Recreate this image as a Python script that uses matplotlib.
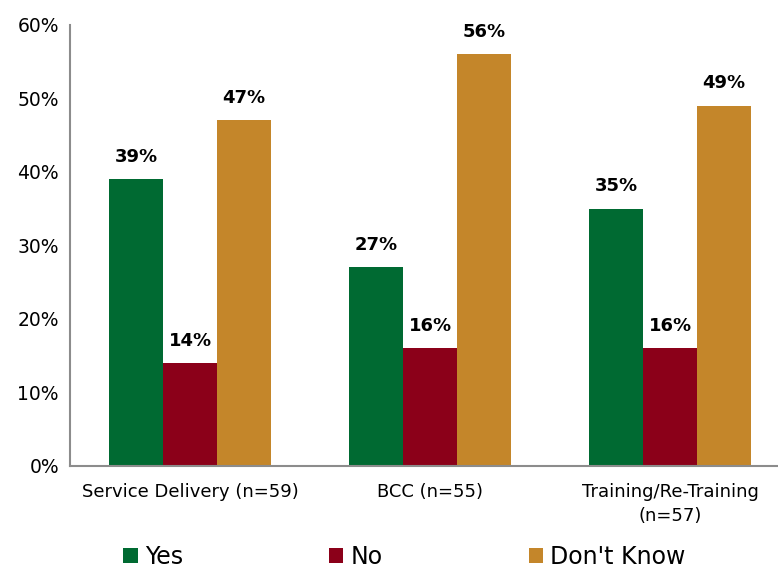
import numpy as np
import matplotlib.pyplot as plt

categories = ["Service Delivery (n=59)", "BCC (n=55)", "Training/Re-Training\n(n=57)"]
series = ["Yes", "No", "Don't Know"]
yes_vals = [39, 27, 35]
no_vals = [14, 16, 16]
dk_vals = [47, 56, 49]
colors = ["#006A32", "#8B0019", "#C4862A"]

plt.rcParams['font.family'] = ['DejaVu Sans']

fig = plt.figure(figsize=(7.78, 5.76), dpi=100)
ax = fig.add_axes([0.09, 0.191, 0.91, 0.766])

x = np.arange(len(categories))
w = 0.225
for i, (vals, lab) in enumerate(zip([yes_vals, no_vals, dk_vals], series)):
    pos = x + (i - 1) * w
    ax.bar(pos, vals, w, color=colors[i], label=lab)
    for p, v in zip(pos, vals):
        ax.text(p, v + 1.8, "%d%%" % v, ha='center', va='bottom',
                fontsize=13, fontweight='bold')

ax.set_xlim(-0.5, 2.45)
ax.set_ylim(0, 60)
ax.set_yticks(range(0, 61, 10))
ax.set_yticklabels(["%d%%" % t for t in range(0, 61, 10)], fontsize=13.5)
ax.set_xticks(x)
ax.set_xticklabels(categories, fontsize=13, linespacing=1.45)
ax.tick_params(axis='y', length=0, pad=8)
ax.tick_params(axis='x', length=0, pad=12)
for s in ['top', 'right']:
    ax.spines[s].set_visible(False)
for s in ['left', 'bottom']:
    ax.spines[s].set_color('#8c8c8c')
    ax.spines[s].set_linewidth(1.5)

fig.legend(loc='lower center', bbox_to_anchor=(0.52, -0.025), ncol=3, frameon=False,
           fontsize=17, handlelength=0.6, handleheight=0.6, handletextpad=0.3,
           columnspacing=6.2)

fig.savefig("out.png", dpi=100)
